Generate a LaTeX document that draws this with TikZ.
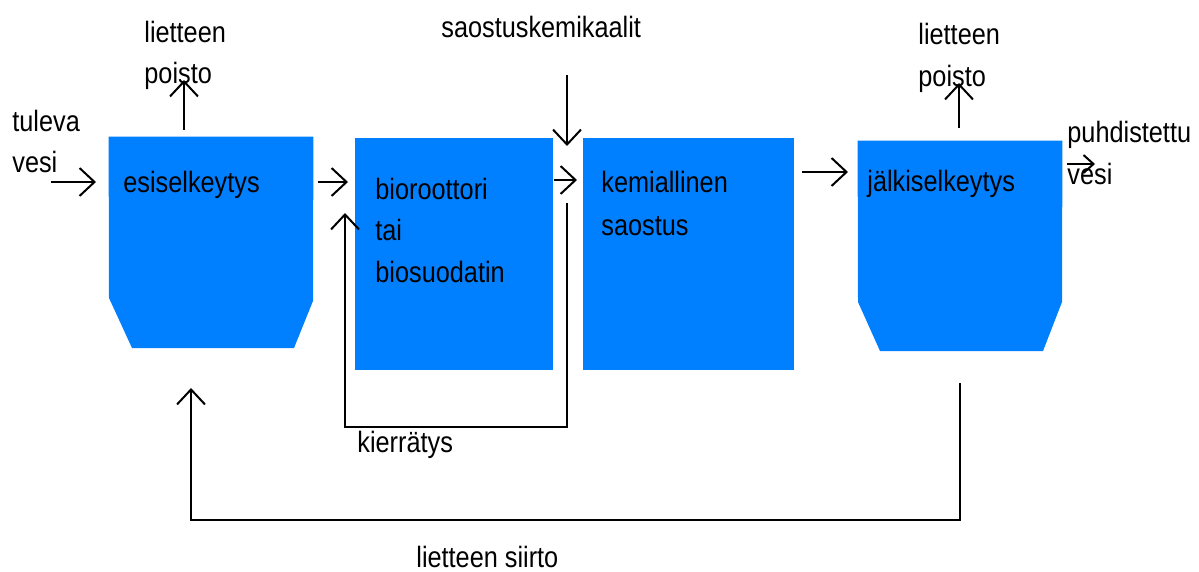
\documentclass[tikz,border=0pt]{standalone}
\usepackage{fontspec}
\setmainfont{Liberation Sans}[FakeStretch=0.86]
\usetikzlibrary{arrows.meta}
\definecolor{tank}{RGB}{0,128,255}
\tikzset{
  tankbox/.style={rectangle, inner sep=0pt, draw=none},
  lbl/.style={anchor=base west, inner sep=0pt, font=\fontsize{14.7pt}{18pt}\selectfont},
  flow/.style={line width=1pt, -{Straight Barb[length=7.5pt,width=14pt,line width=1pt]}},
  pipe/.style={line width=1pt}
}
\begin{document}
\begin{tikzpicture}[x=0.5pt,y=-0.5pt]
\useasboundingbox (0,0) rectangle (1199,572);
% tanks
\node[tankbox, minimum width=102pt, minimum height=105.5pt] (b1) at (211,242.5) {};
\node[tankbox, fill=tank, minimum width=99pt, minimum height=116pt] (b2) at (454,254) {};
\node[tankbox, fill=tank, minimum width=105.5pt, minimum height=116pt] (b3) at (688.5,254) {};
\node[tankbox, minimum width=102pt, minimum height=105pt] (b4) at (960,246) {};
\fill[tank] (b1.north west) -- (b1.north east) -- (313,301) -- (294,348) -- (132,348) -- (109,298) -- cycle;
\fill[tank] (b4.north west) -- (b4.north east) -- (1062,302) -- (1043,351) -- (880,351) -- (858,302) -- cycle;
% texts in tanks
\node[lbl] (t1) at (123,193) {esiselkeytys};
\node[lbl] (t2a) at (375,200) {bioroottori};
\node[lbl] (t2b) at (375,241) {tai};
\node[lbl] (t2c) at (375,283) {biosuodatin};
\node[lbl] (t3a) at (601,193) {kemiallinen};
\node[lbl] (t3b) at (601,235) {saostus};
\node[lbl] (t4) at (867,192) {jälkiselkeytys};
% outside labels
\node[lbl] (inA) at (12,132) {tuleva};
\node[lbl] (inB) at (12,173) {vesi};
\node[lbl] (lp1a) at (144,43) {lietteen};
\node[lbl] (lp1b) at (144,84) {poisto};
\node[lbl] (lp2a) at (918,45) {lietteen};
\node[lbl] (lp2b) at (918,87) {poisto};
\node[lbl] (outA) at (1067,143) {puhdistettu};
\node[lbl] (outB) at (1067,185) {vesi};
\node[lbl] (chem) at (441,38) {saostuskemikaalit};
\node[lbl] (kier) at (357,452) {kierrätys};
\node[lbl] (siir) at (416,567) {lietteen siirto};
% connector ends
\coordinate (inS) at (51,182);   \coordinate (inE) at (96,182);
\coordinate (p1S) at (184,130);  \coordinate (p1E) at (184,80);
\coordinate (a12S) at (318,182); \coordinate (a12E) at (348,182);
\coordinate (a23S) at (554,180); \coordinate (a23E) at (577,180);
\coordinate (chS) at (567,75);   \coordinate (chE) at (567,146);
\coordinate (rS) at (567,203);   \coordinate (rE) at (345,213);
\coordinate (a34S) at (802,172); \coordinate (a34E) at (848,172);
\coordinate (p2S) at (959,128);  \coordinate (p2E) at (959,83);
\coordinate (oS) at (1067,164);  \coordinate (oE) at (1095,164);
\coordinate (sS) at (960,383);   \coordinate (sE) at (191,388);
% connectors
\draw[flow] (inS) -- (inE);
\draw[flow] (p1S) -- (p1E);
\draw[flow] (a12S) -- (a12E);
\draw[flow] (a23S) -- (a23E);
\draw[flow] (chS) -- (chE);
\draw[flow] (rS) -- (rS |- 0,427) -- (rE |- 0,427) -- (rE);
\draw[flow] (a34S) -- (a34E);
\draw[flow] (p2S) -- (p2E);
\draw[line width=1pt, -{Straight Barb[length=5pt,width=9pt,line width=1pt]}] (oS) -- (oE);
\draw[flow] (sS) -- (sS |- 0,520) -- (sE |- 0,520) -- (sE);
\end{tikzpicture}
\end{document}
